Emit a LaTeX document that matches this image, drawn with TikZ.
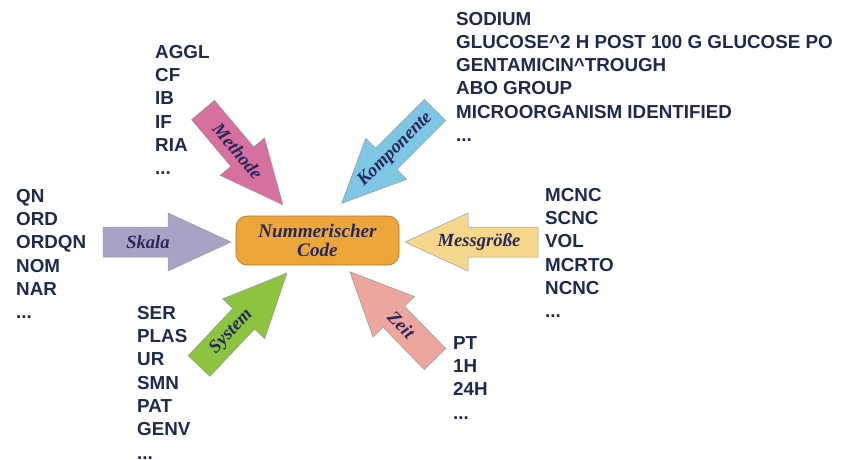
\documentclass[tikz,border=0pt]{standalone}
\usepackage{fontspec}
\setmainfont{Liberation Serif}
\setsansfont{Liberation Sans}
\definecolor{cbox}{RGB}{236,166,58}
\definecolor{cboxd}{RGB}{175,115,45}
\definecolor{cpink}{RGB}{214,112,158}
\definecolor{cblue}{RGB}{125,198,228}
\definecolor{clav}{RGB}{168,162,196}
\definecolor{cyel}{RGB}{246,216,140}
\definecolor{cgreen}{RGB}{140,196,64}
\definecolor{csalm}{RGB}{236,166,158}
\definecolor{navy}{RGB}{30,42,78}
\definecolor{lblnavy}{RGB}{40,40,90}
\tikzset{
  listtext/.style={anchor=north west, inner sep=0pt, align=left, text=navy,
    font=\sffamily\bfseries\fontsize{18.8}{23.3}\selectfont},
  arrlabel/.style={inner sep=0pt, text=lblnavy,
    font=\rmfamily\bfseries\itshape\fontsize{18.6}{19}\selectfont},
  blockarr/.style={draw=black!40, line width=0.5pt},
  codebox/.style={draw=cboxd, line width=0.6pt, fill=cbox, rounded corners=11pt,
    minimum width=163pt, minimum height=49pt, inner sep=0pt, align=center,
    text=lblnavy, font=\rmfamily\bfseries\itshape\fontsize{19.2}{19}\selectfont}
}
% #1 name, #2 tail, #3 angle, #4 length, #5 fill, #6 half shaft, #7 label dist, #8 label rot, #9 text
\newcommand\blkarrow[9]{%
  \path[blockarr, fill=#5, shift={#2}, rotate=#3]
    (0,-#6) -- ({#4-63},-#6) -- ({#4-63},-29) -- (#4,0) -- ({#4-63},29) -- ({#4-63},#6) -- (0,#6) -- cycle;
  \path[shift={#2}, rotate=#3] node[arrlabel, rotate=#8] (#1) at (#7,0) {#9};}
\begin{document}
\begin{tikzpicture}[x=1pt, y=-1pt]
\useasboundingbox (0,0) rectangle (841,459);
\fill[white] (0,0) rectangle (841,459);

% arrows
\blkarrow{skala}{(103,242)}{0}{128}{clav}{15}{45}{0}{Skala}
\blkarrow{messg}{(538,242)}{180}{133}{cyel}{15}{59}{0}{Messgröße}
\blkarrow{methode}{(203,110)}{-49.9}{124}{cpink}{15}{54}{-49.9}{Methode}
\blkarrow{kompo}{(435,110)}{-135}{132}{cblue}{15}{56}{45}{Komponente}
\blkarrow{system}{(199,366)}{46.6}{128}{cgreen}{15}{47}{46.6}{System}
\blkarrow{zeit}{(435,359)}{134.3}{122}{csalm}{15}{48}{-45.7}{Zeit}

% central box
\node[codebox] (code) at (317.5,240.5) {Nummerischer\\Code};

% lists
\node[listtext] (skl) at (16,189) {QN\\ORD\\ORDQN\\NOM\\NAR\\...};
\node[listtext] (mtl) at (155,45) {AGGL\\CF\\IB\\IF\\RIA\\...};
\node[listtext] (kpl) at (456,11.7) {SODIUM\\GLUCOSE\textasciicircum 2 H POST 100 G GLUCOSE PO\\GENTAMICIN\textasciicircum TROUGH\\ABO GROUP\\MICROORGANISM IDENTIFIED\\...};
\node[listtext] (msl) at (545,188) {MCNC\\SCNC\\VOL\\MCRTO\\NCNC\\...};
\node[listtext] (syl) at (137,306) {SER\\PLAS\\UR\\SMN\\PAT\\GENV\\...};
\node[listtext] (ztl) at (453,336) {PT\\1H\\24H\\...};
\end{tikzpicture}
\end{document}
